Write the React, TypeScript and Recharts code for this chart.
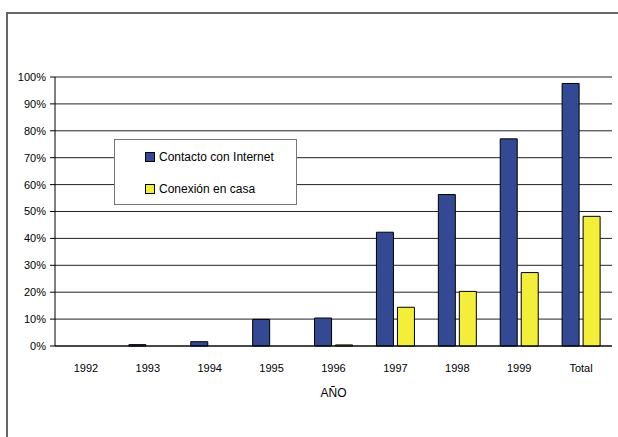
import React from 'react';
import { BarChart, Bar, XAxis, YAxis, CartesianGrid, Legend } from 'recharts';

const years = ['1992', '1993', '1994', '1995', '1996', '1997', '1998', '1999', 'Total'];
const contacto = [0, 0.5, 1.6, 9.9, 10.4, 42.3, 56.3, 77, 97.6];
const conexion = [0, 0, 0, 0, 0.4, 14.4, 20.3, 27.3, 48.2];
const yTicks = [0, 10, 20, 30, 40, 50, 60, 70, 80, 90, 100];
const edgeTicks = [0, 1, 2, 3, 4, 5, 6, 7, 8, 9];
const seriesOrder = ['contacto', 'conexion'];

const data = years.map((anio, i) => ({
  anio,
  contacto: contacto[i] || null,
  conexion: conexion[i] || null,
}));

const font = '"Liberation Sans", Arial, sans-serif';

const LegendBox = (props: any) => {
  const items = [...(props.payload ?? [])].sort(
    (a: any, b: any) => seriesOrder.indexOf(a.dataKey) - seriesOrder.indexOf(b.dataKey)
  );
  return (
    <div
      style={{
        position: 'relative',
        width: 181,
        height: 64,
        background: '#fff',
        border: '1px solid #777',
        fontFamily: font,
        fontSize: 12,
        color: '#000',
      }}
    >
      {items.map((it: any, i: number) => (
        <div
          key={it.value}
          style={{ position: 'absolute', left: 30, top: 10 + i * 32, display: 'flex', alignItems: 'center' }}
        >
          <span
            style={{
              display: 'inline-block',
              width: 8,
              height: 8,
              background: it.color,
              border: '1px solid #000',
              marginRight: 4,
            }}
          />
          <span>{it.value}</span>
        </div>
      ))}
    </div>
  );
};

export default function App() {
  return (
    <div style={{ position: 'absolute', left: 0, top: 0, width: 618, height: 437, background: '#fff' }}>
      <div
        style={{
          position: 'absolute',
          left: 6,
          top: 12,
          width: 612,
          height: 425,
          borderLeft: '2px solid #666',
          borderTop: '2px solid #666',
        }}
      />
      <BarChart
        width={618}
        height={437}
        data={data}
        margin={{ top: 77, right: 6, left: 0, bottom: 30 }}
        barSize={17}
        barGap={4}
        style={{ position: 'absolute', left: 0, top: 0, fontFamily: font }}
      >
        <CartesianGrid xAxisId="b_cat" vertical={false} stroke="#222" strokeOpacity={1} />
        <XAxis
          xAxisId="a_edge"
          type="number"
          domain={[0, 9]}
          ticks={edgeTicks}
          tick={false}
          tickSize={5}
          height={6}
          stroke="#000"
          axisLine={{ stroke: '#000' }}
        />
        <XAxis
          xAxisId="b_cat"
          dataKey="anio"
          axisLine={false}
          tickLine={false}
          height={55}
          tickMargin={6}
          tick={{ fill: '#000', fontSize: 11, fontFamily: font }}
          interval={0}
          label={{ value: 'AÑO', position: 'insideBottom', offset: 10, fill: '#000', fontSize: 12, fontFamily: font }}
        />
        <YAxis
          domain={[0, 100]}
          ticks={yTicks}
          width={55}
          tickSize={5}
          tickMargin={4}
          tickFormatter={(v) => `${v}%`}
          tick={{ fill: '#000', fontSize: 11, fontFamily: font }}
          stroke="#000"
          interval={0}
        />
        <YAxis
          yAxisId="right"
          orientation="right"
          domain={[0, 100]}
          width={0}
          tick={false}
          tickLine={false}
          stroke="#000"
        />
        <Legend
          content={LegendBox}
          layout="vertical"
          align="center"
          verticalAlign="middle"
          wrapperStyle={{ left: 114, top: 139, width: 183, height: 66 }}
        />
        <Bar xAxisId="b_cat" dataKey="contacto" name="Contacto con Internet" fill="#334993" stroke="#000" strokeWidth={1} isAnimationActive={false} />
        <Bar xAxisId="b_cat" dataKey="conexion" name="Conexión en casa" fill="#f2ee3a" stroke="#000" strokeWidth={1} isAnimationActive={false} />
      </BarChart>
    </div>
  );
}
